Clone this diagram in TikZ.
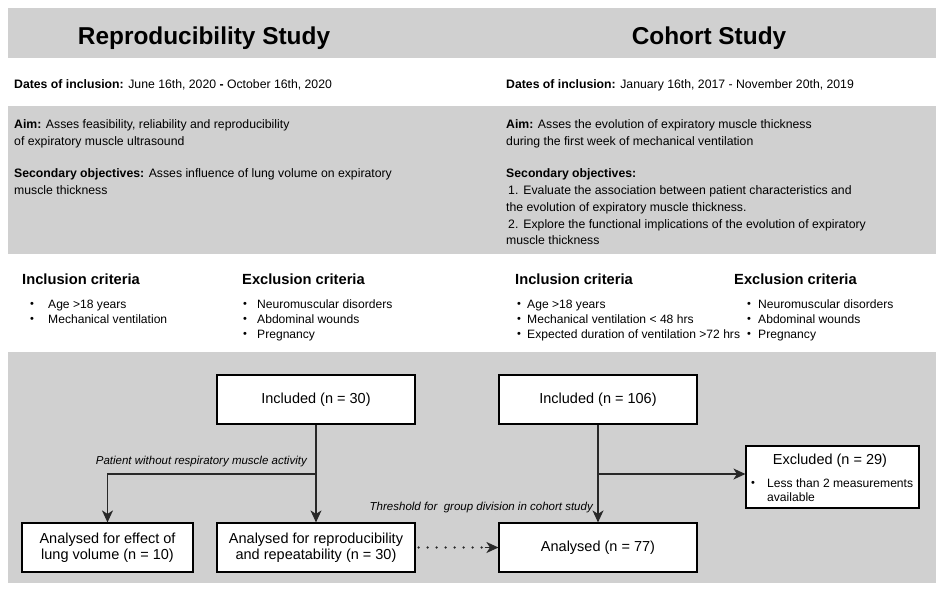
\documentclass[tikz,border=0pt]{standalone}
\usepackage{fontspec}
\setmainfont{Liberation Sans}
\usetikzlibrary{arrows.meta}
\definecolor{bandgray}{RGB}{208,208,208}
\definecolor{linecol}{RGB}{40,40,40}
\newcommand{\smallbul}{\raisebox{0.3pt}{\fontsize{11}{11}\selectfont\textbullet}}
\begin{document}
\begin{tikzpicture}[x=1pt,y=-1pt,
  txt/.style={inner sep=0pt, anchor=base west, font=\fontsize{12.25}{14}\selectfont},
  itm/.style={inner sep=0pt, anchor=base west, font=\fontsize{12.1}{14}\selectfont},
  head/.style={inner sep=0pt, anchor=base west, font=\fontsize{14.7}{17}\selectfont\bfseries},
  ttl/.style={inner sep=0pt, anchor=base, font=\fontsize{24.4}{28}\selectfont\bfseries},
  lbl/.style={inner sep=0pt, anchor=base east, font=\fontsize{11.5}{13}\selectfont\itshape},
  flowbox/.style={draw=black, line width=1.2pt, fill=white, inner sep=0pt,
    align=center, font=\fontsize{14.5}{16}\selectfont},
  conn/.style={draw=linecol, line width=1.3pt, -{Stealth[length=12pt,width=11pt,inset=3.5pt]}},
  dotline/.style={draw=linecol, line width=2.6pt, line cap=round,
    dash pattern=on 0pt off 9pt}
]
\useasboundingbox (0,0) rectangle (936,592);
% bands
\fill[bandgray] (8,8) rectangle (936,58);
\fill[bandgray] (8,106) rectangle (936,254);
\fill[bandgray] (8,352) rectangle (936,583);

% titles
\node[ttl] (t1) at (204,44) {Reproducibility Study};
\node[ttl] (t2) at (709,44) {Cohort Study};

% dates
\node[txt] (d1) at (14,88) {\textbf{Dates of inclusion:} June 16th, 2020 \textbf{-} October 16th, 2020};
\node[txt] (d2) at (506,88) {\textbf{Dates of inclusion:} January 16th, 2017 - November 20th, 2019};

% aims left
\node[txt] (a1) at (14,128) {\textbf{Aim:} Asses feasibility, reliability and reproducibility};
\node[txt] (a2) at (14,145) {of expiratory muscle ultrasound};
\node[txt] (a3) at (14,177) {\textbf{Secondary objectives:} Asses influence of lung volume on expiratory};
\node[txt] (a4) at (14,194) {muscle thickness};

% aims right
\node[txt] (b1) at (506,128) {\textbf{Aim:} Asses the evolution of expiratory muscle thickness};
\node[txt] (b2) at (506,145) {during the first week of mechanical ventilation};
\node[txt] (b3) at (506,177) {\textbf{Secondary objectives:}};
\node[txt] (b4) at (506,194) {\hspace{2pt}1.\hspace{5pt}Evaluate the association between patient characteristics and};
\node[txt] (b5) at (506,211) {the evolution of expiratory muscle thickness.};
\node[txt] (b6) at (506,228) {\hspace{2pt}2.\hspace{5pt}Explore the functional implications of the evolution of expiratory};
\node[txt] (b7) at (506,244) {muscle thickness};

% criteria headers
\node[head] (h1) at (22,284) {Inclusion criteria};
\node[head] (h2) at (242,284) {Exclusion criteria};
\node[head] (h3) at (515,284) {Inclusion criteria};
\node[head] (h4) at (734,284) {Exclusion criteria};

% left inclusion items
\node[itm] (p1) at (30,308) {\smallbul};
\node[itm] (q1) at (48,308) {Age >18 years};
\node[itm] (p2) at (30,323) {\smallbul};
\node[itm] (q2) at (48,323) {Mechanical ventilation};
% left exclusion items
\node[itm] (p3) at (243,308) {\smallbul};
\node[itm] (q3) at (257,308) {Neuromuscular disorders};
\node[itm] (p4) at (243,323) {\smallbul};
\node[itm] (q4) at (257,323) {Abdominal wounds};
\node[itm] (p5) at (243,338) {\smallbul};
\node[itm] (q5) at (257,338) {Pregnancy};
% right inclusion items
\node[itm] (p6) at (517,308) {\smallbul};
\node[itm] (q6) at (527,308) {Age >18 years};
\node[itm] (p7) at (517,323) {\smallbul};
\node[itm] (q7) at (527,323) {Mechanical ventilation < 48 hrs};
\node[itm] (p8) at (517,338) {\smallbul};
\node[itm] (q8) at (527,338) {Expected duration of ventilation >72 hrs};
% right exclusion items
\node[itm] (p9) at (747,308) {\smallbul};
\node[itm] (q9) at (758,308) {Neuromuscular disorders};
\node[itm] (p10) at (747,323) {\smallbul};
\node[itm] (q10) at (758,323) {Abdominal wounds};
\node[itm] (p11) at (747,338) {\smallbul};
\node[itm] (q11) at (758,338) {Pregnancy};

% flowchart boxes
\node[flowbox, minimum width=198pt, minimum height=49pt] (inc30) at (316,399.5) {Included (n = 30)};
\node[flowbox, minimum width=198pt, minimum height=49pt] (inc106) at (598,399.5) {Included (n = 106)};
\node[flowbox, minimum width=171pt, minimum height=49pt] (boxL) at (107.5,547.5) {Analysed for effect of\\lung volume (n = 10)};
\node[flowbox, minimum width=198pt, minimum height=49pt] (boxM) at (316,547.5) {Analysed for reproducibility\\and repeatability (n = 30)};
\node[flowbox, minimum width=198pt, minimum height=49pt] (a77) at (598,547.5) {Analysed (n = 77)};
\node[flowbox, minimum width=173pt, minimum height=62pt] (excl) at (832.5,477) {};
\node[inner sep=0pt, anchor=base, font=\fontsize{14.5}{16}\selectfont] (excltitle) at (830,464) {Excluded (n = 29)};
\node[itm] (exb) at (751,487) {\smallbul};
\node[itm] (exi) at (767,487) {Less than 2 measurements};
\node[itm] (exi2) at (767,501) {available};

% labels
\node[lbl] (lab1) at (307,464) {Patient without respiratory muscle activity};
\node[lbl] (lab2) at (593,510) {Threshold for\ \ group division in cohort study};

% connectors
\coordinate (bl) at (316,474);
\coordinate (br) at (598,474);
\draw[conn] (inc30.south) -- (boxM.north);
\draw[conn] (bl) -| (boxL.north);
\draw[conn] (inc106.south) -- (a77.north);
\draw[conn] (br) -- (br -| excl.west);
\draw[dotline, shorten <=3pt, shorten >=16pt] (boxM.east) -- (a77.west);
\draw[conn, shorten <=69pt] (boxM.east) -- (a77.west);
\end{tikzpicture}
\end{document}
